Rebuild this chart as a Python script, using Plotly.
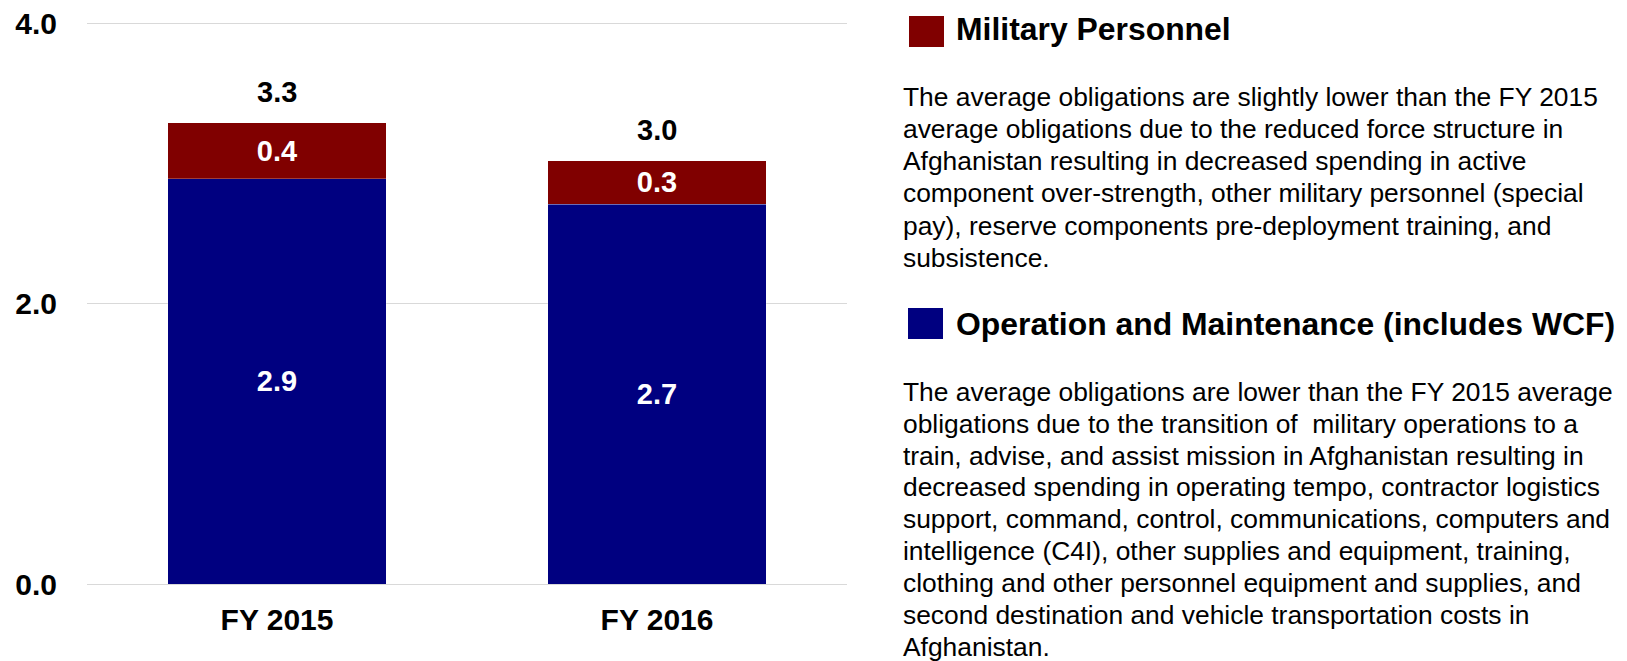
import plotly.graph_objects as go

# ---------------- data ----------------
categories = ["FY 2015", "FY 2016"]
om_values = [2.89, 2.71]          # Operation and Maintenance (includes WCF)
mp_values = [0.40, 0.31]          # Military Personnel
totals = [a + b for a, b in zip(om_values, mp_values)]
y_tick_values = [0.0, 2.0, 4.0]

mp_heading = "Military Personnel"
mp_lines = [
    "The average obligations are slightly lower than the FY 2015",
    "average obligations due to the reduced force structure in",
    "Afghanistan resulting in decreased spending in active",
    "component over-strength, other military personnel (special",
    "pay), reserve components pre-deployment training, and",
    "subsistence.",
]
om_heading = "Operation and Maintenance (includes WCF)"
om_lines = [
    "The average obligations are lower than the FY 2015 average",
    "obligations due to the transition of  military operations to a",
    "train, advise, and assist mission in Afghanistan resulting in",
    "decreased spending in operating tempo, contractor logistics",
    "support, command, control, communications, computers and",
    "intelligence (C4I), other supplies and equipment, training,",
    "clothing and other personnel equipment and supplies, and",
    "second destination and vehicle transportation costs in",
    "Afghanistan.",
]

# ---------------- styles ----------------
W, H = 1627, 661
RED = "#800000"
BLUE = "#000080"
BASE_FONT = "Liberation Sans, Arial, Helvetica, sans-serif"
BODY_SIZE = 26.4
HEAD_SIZE = 31.9


def px(x):
    return x / W


def py(y):
    return 1 - y / H


fig = go.Figure()
fig.add_trace(go.Bar(
    x=categories, y=om_values, name=om_heading,
    marker=dict(color=BLUE, line=dict(width=0.8, color="rgba(255,255,255,0.3)")),
    texttemplate="%{y:.1f}", textposition="inside", insidetextanchor="middle",
    textfont=dict(family=BASE_FONT, size=29, color="white", weight="bold"),
    constraintext="none", hoverinfo="skip",
))
fig.add_trace(go.Bar(
    x=categories, y=mp_values, name=mp_heading,
    marker=dict(color=RED, line=dict(width=0.8, color="rgba(255,255,255,0.3)")),
    texttemplate="%{y:.1f}", textposition="inside", insidetextanchor="middle",
    textfont=dict(family=BASE_FONT, size=29, color="white", weight="bold"),
    constraintext="none", hoverinfo="skip",
))

annotations = []
for c, t in zip(categories, totals):
    annotations.append(dict(
        x=c, y=t, xref="x", yref="y", text=f"{t:.1f}", showarrow=False,
        yanchor="middle", yshift=31,
        font=dict(family=BASE_FONT, size=29, color="black", weight="bold"),
    ))

# right-hand panel: headings with colour keys and descriptive text
heading_font = dict(family=BASE_FONT, size=HEAD_SIZE, color="black", weight="bold")
body_font = dict(family=BASE_FONT, size=BODY_SIZE, color="black")


def add_text(x, baseline, text, font, size):
    annotations.append(dict(
        x=px(x), y=py(baseline - 0.35 * size), xref="paper", yref="paper",
        text=text, showarrow=False, xanchor="left", yanchor="middle",
        font=font, borderpad=0,
    ))


add_text(955, 40, mp_heading, heading_font, HEAD_SIZE)
for i, line in enumerate(mp_lines):
    add_text(902, 106 + 32.2 * i, line, body_font, BODY_SIZE)

add_text(955, 335, om_heading, heading_font, HEAD_SIZE)
for i, line in enumerate(om_lines):
    add_text(902, 401 + 31.9 * i, line, body_font, BODY_SIZE)

shapes = [
    dict(type="rect", xref="paper", yref="paper", x0=px(909), x1=px(944),
         y0=py(16), y1=py(47), fillcolor=RED, line=dict(width=0)),
    dict(type="rect", xref="paper", yref="paper", x0=px(908), x1=px(943),
         y0=py(308), y1=py(339), fillcolor=BLUE, line=dict(width=0)),
]

fig.update_layout(
    width=W, height=H,
    margin=dict(l=0, r=0, t=0, b=0, autoexpand=False),
    paper_bgcolor="white", plot_bgcolor="white",
    barmode="stack", bargap=0.426,
    showlegend=False,
    annotations=annotations,
    shapes=shapes,
    font=dict(family=BASE_FONT, color="black"),
)
fig.update_xaxes(
    domain=[px(87), px(847)], showgrid=False, zeroline=False, showline=False,
    ticks="", ticklabelstandoff=15, automargin=False,
    tickfont=dict(family=BASE_FONT, size=30, color="black", weight="bold"),
)
fig.update_yaxes(
    domain=[py(584), py(22)], range=[0, 4.008], tickvals=y_tick_values,
    tickformat=".1f", showgrid=True, gridcolor="#d9d9d9", gridwidth=1,
    zeroline=True, zerolinecolor="#d9d9d9", zerolinewidth=1, showline=False,
    ticks="", ticklabelstandoff=29, automargin=False,
    tickfont=dict(family=BASE_FONT, size=30, color="black", weight="bold"),
)

fig.write_html("out.html", config={"displayModeBar": False},
               post_script="document.body.style.margin='0';")
